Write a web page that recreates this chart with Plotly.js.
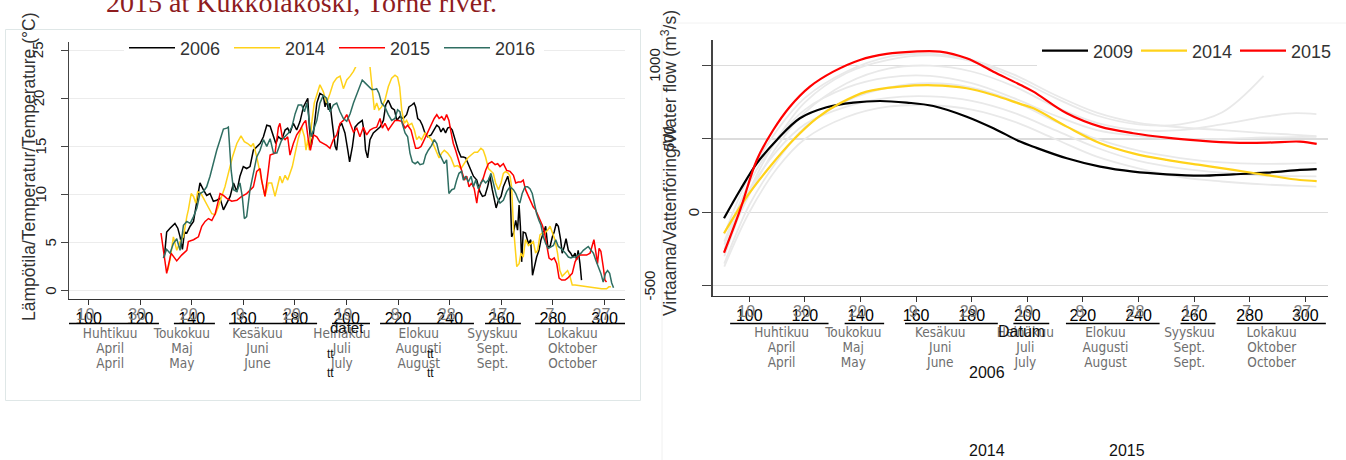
<!DOCTYPE html>
<html><head><meta charset="utf-8">
<script src="https://cdn.plot.ly/plotly-3.0.1.min.js"></script>
<style>html,body{margin:0;padding:0;background:#fff;}#chart{width:1346px;height:460px;}</style>
</head><body><div id="chart"></div>
<script>
// ---------- DATA ----------
const tickDays = [100,120,140,160,180,200,220,240,260,280,300];
const tickLabels = ['100','120','140','160','180','200','220','240','260','280','300'];
const dayOfMonthLabels = ['10','30','20','9','29','19','8','28','17','7','27'];
const monthsFi = ['Huhtikuu','Toukokuu','Kesäkuu','Heinäkuu','Elokuu','Syyskuu','Lokakuu'];
const monthsSv = ['April','Maj','Juni','Juli','Augusti','Sept.','Oktober'];
const monthsEn = ['April','May','June','July','August','Sept.','October'];
const monthCentersTemp = [108.4,136.2,165.5,198.2,228.0,256.6,287.6];
const monthCentersFlow = [111.6,137.4,168.7,199.3,228.1,258.3,287.9];
const monthSpansTemp = [[91.3,127.3],[133.1,149.0],[154.5,188.6],[194.4,209.1],[213.0,249.4],[253.7,267.6],[273.1,308.0]];
const monthSpansFlow = [[93.1,128.5],[134.3,148.5],[156.0,189.4],[195.0,207.9],[213.9,247.6],[255.1,267.7],[275.3,307.4]];
const tempTicks = [0,5,10,15,20,25];
const flowTicks = [-500,0,500,1000];

const tempDays2006 = [129.4,130.3,131.6,133.5,134.6,135.5,136.4,137.2,138.1,139.4,140.7,142.0,143.2,144.5,145.8,147.1,148.4,149.7,151.0,152.3,153.6,154.9,156.2,157.5,158.7,160.0,161.3,162.6,163.9,165.2,166.5,167.8,169.1,170.4,171.7,172.6,173.6,174.9,176.2,177.2,178.1,179.4,180.7,182.0,183.3,184.2,185.0,185.6,186.3,187.2,188.5,189.7,191.0,191.7,192.3,193.0,193.6,194.5,195.6,196.2,197.1,198.1,199.4,200.5,201.2,202.3,203.3,204.6,206.1,206.9,207.4,208.2,209.1,210.4,211.7,213.0,214.3,215.2,216.2,217.5,218.6,219.5,220.7,222.0,223.3,224.2,225.3,226.2,226.8,227.6,228.5,229.4,230.4,231.5,232.8,234.0,235.0,235.9,236.6,237.5,238.4,239.2,240.1,241.0,242.1,243.3,244.4,245.3,246.2,247.2,248.3,249.2,250.5,251.7,252.7,253.7,254.7,255.6,256.5,257.3,258.0,258.9,259.9,260.8,261.7,262.5,263.4,264.0,264.7,265.6,266.3,266.9,267.4,267.9,268.5,269.4,270.5,271.4,272.1,272.8,273.7,274.6,275.4,276.3,277.2,278.0,278.9,279.8,280.5,281.3,282.1,283.0,283.6,284.4,285.1,286.0,286.9,287.7,288.6,289.2,289.8,290.5,291.1];
const temp2006 = [3.5,6.1,6.5,7.0,6.5,5.6,4.3,6.1,6.0,6.7,7.2,9.1,11.2,10.5,9.9,10.1,9.3,9.4,9.6,8.4,9.1,9.8,11.2,10.3,11.9,12.9,12.7,12.9,14.6,15.0,15.3,16.0,17.2,17.1,16.0,15.3,16.0,15.7,16.7,16.9,16.4,17.4,16.7,17.6,19.1,19.5,20.0,17.0,15.0,16.4,19.5,20.5,20.3,19.1,19.8,18.8,19.5,17.4,15.0,14.6,17.0,17.4,16.4,14.6,13.4,15.0,17.0,17.4,17.7,16.4,14.6,13.8,15.7,16.4,16.7,17.0,17.7,19.3,19.8,19.0,18.8,17.7,18.1,17.9,18.3,19.1,19.3,19.5,19.1,17.9,17.7,17.2,16.4,16.0,16.2,16.7,17.2,17.0,16.5,16.9,16.4,16.9,17.0,16.7,15.7,14.6,13.9,13.9,13.8,13.2,12.4,11.9,11.5,10.3,9.8,9.9,10.8,11.9,10.5,9.6,8.6,9.4,9.8,10.8,11.5,11.9,10.8,5.6,6.0,7.3,6.3,8.9,6.7,3.0,6.1,6.0,4.9,5.3,1.6,2.5,3.5,4.2,5.3,6.0,6.7,4.6,4.6,5.6,6.1,7.0,6.7,5.3,3.9,4.6,5.4,4.2,3.9,3.5,3.9,3.2,4.2,2.8,1.1];

const tempDays2014 = [130.7,131.6,132.9,134.2,135.5,136.8,138.1,138.7,139.8,140.7,141.6,142.3,143.6,144.9,146.2,147.8,149.1,150.3,151.6,152.9,154.2,155.8,157.5,159.1,160.4,161.7,163.0,163.9,165.2,166.5,167.4,168.4,169.7,171.0,172.3,173.6,174.2,175.1,176.2,177.2,178.1,179.0,180.1,181.3,182.6,183.7,184.3,185.0,185.6,186.5,187.5,188.5,189.7,191.0,192.3,193.6,194.9,196.2,197.5,198.8,200.1,201.4,202.7,204.0,205.2,206.5,207.8,209.1,210.0,210.8,211.7,212.6,213.6,214.9,216.2,217.5,218.8,219.8,220.6,221.4,222.4,223.3,224.2,225.3,226.3,227.2,228.1,229.1,230.4,231.7,233.0,234.0,235.0,235.9,236.9,237.9,239.2,240.5,241.8,243.1,244.4,245.7,247.0,248.3,249.6,250.8,252.1,253.0,253.9,255.0,256.0,256.9,257.8,258.9,259.9,260.8,261.7,262.7,263.4,264.0,264.7,265.3,266.0,266.9,267.6,268.5,269.4,270.5,271.5,272.4,273.3,274.1,275.0,275.9,276.9,278.0,278.9,279.8,280.8,281.8,282.7,283.6,284.7,285.7,286.6,287.5,288.6,291.1,295.0,298.9,300.8,301.7,302.5];
const temp2014 = [2.1,3.2,5.6,4.2,5.1,5.6,7.7,8.4,10.1,9.8,9.1,10.3,10.1,9.4,8.7,8.0,7.9,8.7,9.8,10.8,12.2,13.9,15.3,16.1,15.5,15.3,15.0,15.3,13.9,12.2,11.2,9.8,11.2,11.2,9.8,11.2,11.9,11.2,12.0,11.5,12.2,12.9,14.3,15.8,17.0,16.0,14.6,15.7,14.6,17.4,19.5,20.5,21.4,20.7,19.5,20.5,21.6,22.1,22.3,21.0,21.9,22.3,22.8,23.5,23.6,23.5,23.6,23.3,20.9,18.8,19.5,18.8,19.1,19.8,21.2,22.1,22.4,22.2,21.2,18.8,17.4,17.7,17.2,17.4,16.7,15.7,16.0,15.7,16.4,16.0,15.7,15.0,14.3,13.8,14.3,14.6,14.3,13.8,12.9,13.0,12.7,13.2,13.8,14.1,14.4,14.4,14.8,14.6,13.9,12.7,12.4,12.2,11.2,10.5,11.2,12.2,12.4,12.2,11.9,10.8,6.7,4.6,2.5,2.8,3.9,3.5,5.3,4.7,4.9,5.1,3.9,4.2,5.8,6.0,6.0,6.3,6.7,6.0,5.3,3.9,2.1,1.5,1.8,2.1,1.5,0.6,0.6,0.5,0.4,0.2,0.2,0.4,0.4];

const tempDays2015 = [128.1,130.3,132.0,134.2,136.1,138.1,138.7,140.7,142.6,143.9,145.2,146.5,147.8,149.1,151.0,152.3,153.6,155.5,157.5,159.4,161.3,162.6,163.9,165.2,166.5,167.1,168.4,169.7,170.4,172.3,173.6,174.2,175.1,176.2,177.2,178.1,179.4,180.7,182.0,183.3,184.2,185.2,186.0,187.2,188.5,189.7,191.0,192.3,193.6,194.9,196.2,197.5,198.8,200.1,201.4,202.7,204.0,205.2,206.5,207.8,209.1,210.4,211.7,213.0,213.9,214.9,216.2,217.5,218.8,220.1,221.4,222.7,223.7,225.0,225.9,226.8,227.8,228.9,229.8,230.7,231.7,233.0,234.0,235.0,235.9,236.9,237.9,238.8,239.7,240.5,241.4,242.3,243.1,244.0,244.9,245.7,246.6,247.5,248.5,249.5,250.5,251.1,252.1,253.0,253.9,255.0,256.3,257.6,258.6,259.5,260.8,262.1,263.4,264.7,265.6,266.6,267.6,268.5,269.4,270.5,271.5,272.4,273.3,274.1,275.0,275.9,276.7,277.6,278.5,279.5,280.5,281.5,282.4,283.4,284.7,285.7,286.6,287.5,288.6,289.6,290.5,291.8,293.1,294.4,295.3,295.9,296.7,297.3,297.9,298.6,299.5,300.2,300.8];
const temp2015 = [6.0,1.8,3.9,3.1,3.7,4.2,5.1,5.3,5.6,6.7,7.2,7.5,7.3,8.0,10.1,9.9,9.6,9.3,9.4,9.8,10.1,10.5,10.8,12.4,12.7,11.5,9.8,12.5,14.1,14.3,17.0,17.4,16.0,15.7,16.0,14.1,15.3,16.2,16.7,17.4,17.7,15.7,14.6,16.2,16.0,15.5,15.3,15.1,14.8,15.7,16.2,17.4,17.7,18.3,17.4,16.5,16.9,16.0,17.0,16.2,16.7,16.9,17.0,17.9,16.9,17.4,16.7,17.2,17.7,17.7,17.6,16.9,17.2,16.7,15.7,14.8,14.8,15.0,15.5,16.0,16.7,17.4,17.9,18.3,17.9,18.1,17.7,18.3,17.7,16.5,15.3,14.6,13.9,12.9,12.2,11.5,11.9,10.8,11.2,10.6,9.1,10.3,11.2,11.7,12.5,13.2,13.4,13.1,13.2,12.9,13.2,12.5,12.4,12.0,11.2,11.3,11.3,11.5,10.5,9.8,9.1,8.7,8.4,7.9,7.3,6.8,6.1,4.6,3.4,3.2,3.4,2.8,1.3,1.1,1.1,1.3,1.5,1.8,3.0,3.5,3.7,3.7,3.7,3.9,4.6,5.3,3.9,2.8,4.4,4.1,2.5,1.1,0.9];

const tempDays2016 = [129.0,130.3,131.6,132.9,134.2,135.5,136.8,138.1,139.4,140.7,142.0,143.2,144.5,145.8,147.1,148.4,149.7,151.0,152.3,153.6,154.2,155.3,156.2,157.5,158.7,159.6,160.4,161.3,162.6,163.9,165.2,166.5,167.8,169.1,170.4,171.7,173.0,174.9,176.2,177.5,178.8,180.1,181.3,182.6,183.7,184.6,185.2,186.3,187.2,188.5,189.7,191.0,192.3,193.6,194.9,196.2,197.5,198.8,200.1,201.4,202.7,204.0,205.2,206.1,207.2,208.5,209.8,210.8,211.7,212.6,213.6,214.9,216.2,217.5,218.8,219.8,220.7,221.6,222.7,223.7,224.6,225.5,226.6,227.6,228.5,229.8,230.7,231.7,233.0,234.0,235.0,235.9,236.9,237.9,238.8,239.7,240.8,241.8,242.7,243.6,244.6,245.3,246.2,247.2,248.3,249.2,250.1,251.1,252.1,253.0,253.9,255.0,256.0,257.3,258.2,259.5,260.8,262.1,263.4,264.7,265.6,266.6,267.2,268.1,269.2,270.2,271.1,272.0,272.8,273.7,274.6,275.4,276.3,277.2,278.2,279.3,280.2,281.1,282.1,283.1,284.0,284.9,286.0,287.0,287.9,288.8,289.8,290.9,291.8,292.7,293.7,294.8,295.7,296.6,297.6,298.6,299.5,300.4,301.2,302.0,302.8,303.5];
const temp2016 = [3.4,4.3,3.9,4.9,5.4,4.2,6.8,7.2,7.0,7.7,8.6,10.1,10.3,10.8,11.9,13.4,14.6,15.7,16.8,16.9,17.0,12.5,10.5,10.3,11.2,9.8,7.5,7.7,10.5,12.2,13.9,14.6,15.7,15.0,15.8,14.3,14.3,15.7,16.0,16.4,17.0,18.4,19.3,19.3,18.6,19.5,18.4,16.0,16.7,17.7,19.5,20.3,20.0,18.6,19.3,19.5,18.6,17.9,17.6,18.4,19.5,20.5,21.4,21.9,21.6,21.2,20.9,20.9,21.0,20.5,19.5,19.1,18.3,17.7,17.9,18.8,18.6,17.4,16.4,16.0,14.3,13.4,13.2,13.4,13.1,13.2,14.1,14.6,15.1,15.7,15.3,14.3,13.8,13.2,13.6,10.1,10.5,10.6,11.5,12.2,12.4,11.5,11.9,11.3,11.9,10.8,11.5,10.6,11.2,11.5,11.2,11.5,12.2,10.8,9.8,9.1,9.4,10.3,10.8,10.5,10.1,9.4,9.1,10.1,10.8,10.8,10.6,10.1,9.1,8.0,7.3,6.8,5.6,4.9,4.4,4.6,4.7,5.3,4.6,4.4,4.2,3.9,3.5,3.4,3.5,3.5,3.7,3.9,4.2,4.4,4.6,4.2,3.9,3.2,2.5,1.8,0.9,1.8,2.1,1.8,0.8,0.3];

const flowDays2009 = [90.9,96.7,102.7,109.9,118.2,127.8,137.4,147.0,156.6,166.2,178.2,187.8,197.4,202.2,214.2,226.2,238.1,250.1,262.1,274.1,286.1,298.1,304.1];
const flow2009 = [-41,152,334,493,641,716,748,759,748,725,652,573,482,447,368,311,277,259,250,259,270,289,295];
const flowDays2014 = [90.9,99.1,107.4,115.8,124.2,132.6,142.2,154.2,166.2,178.2,187.8,197.4,202.2,214.2,226.2,238.1,250.1,262.1,274.1,286.1,298.1,304.1];
const flow2014 = [-143,106,311,493,641,743,823,857,866,846,800,739,709,584,471,402,357,323,289,254,220,213];
const flowDays2015 = [90.9,96.7,102.7,108.6,114.6,121.8,130.2,139.8,149.4,159.0,168.6,178.2,187.8,197.4,202.2,214.2,226.2,238.1,250.1,262.1,274.1,286.1,298.1,304.1];
const flow2015 = [-276,16,357,561,720,857,959,1039,1080,1096,1096,1050,959,870,823,675,584,539,509,489,475,475,482,466];
const flowGrayDays = [91,100,110,120,135,150,165,180,195,210,225,240,255,270,285,295,304];
const flowGrayA = [-300,150,500,750,950,1040,1070,1030,920,780,660,600,600,680,930,null,null];
const flowGrayB = [-250,120,450,680,880,980,1000,960,860,720,610,560,560,600,650,675,670];
const flowGrayC = [-200,200,500,700,850,920,930,880,780,660,560,520,500,500,510,512,515];
const flowGrayD = [-350,50,350,580,760,850,880,850,760,620,500,420,370,340,330,332,335];
const flowGrayE = [-220,150,420,600,720,780,790,760,680,560,440,350,300,270,250,247,245];
const flowGrayF = [-370,0,300,500,650,720,730,700,620,500,380,300,240,210,190,182,175];
const flowGrayG = [-150,250,560,780,960,1060,1080,1040,940,800,680,610,580,560,540,530,520];

// ---------- LAYOUT HELPERS ----------
const W = 1346, H = 460;
const px = v => v / W;
const py = v => 1 - v / H;
const SANS = 'Liberation Sans, Arial, sans-serif';
const COND = 'DejaVu Sans Condensed, Liberation Sans Narrow, Arial, sans-serif';

const traces = [];
function tline(x, y, name, color){
  traces.push({x, y, name, type:'scatter', mode:'lines', xaxis:'x', yaxis:'y', legend:'legend',
    line:{color, width:1.5}, hoverinfo:'skip'});
}
tline(tempDays2006, temp2006, '2006', '#000000');
tline(tempDays2014, temp2014, '2014', '#FFD21A');
tline(tempDays2015, temp2015, '2015', '#FF0000');
tline(tempDays2016, temp2016, '2016', '#2F6E62');

[flowGrayA, flowGrayB, flowGrayC, flowGrayD, flowGrayE, flowGrayF, flowGrayG].forEach(g => {
  traces.push({x: flowGrayDays, y: g, type:'scatter', mode:'lines', xaxis:'x2', yaxis:'y2',
    showlegend:false, line:{color:'#e9e9e9', width:1.8, shape:'spline'}, hoverinfo:'skip'});
});
function fline(x, y, name, color){
  traces.push({x, y, name, type:'scatter', mode:'lines', xaxis:'x2', yaxis:'y2', legend:'legend2',
    line:{color, width:2.2, shape:'spline'}, hoverinfo:'skip'});
}
fline(flowDays2009, flow2009, '2009', '#000000');
fline(flowDays2014, flow2014, '2014', '#FFD21A');
fline(flowDays2015, flow2015, '2015', '#FF0000');

// empty carrier traces so that the label-only overlay axes get drawn
['x3','x5','x7','x9'].forEach(a => traces.push({x:[], y:[], type:'scatter', mode:'lines', xaxis:a, yaxis:'y', showlegend:false, hoverinfo:'skip'}));
['x4','x6','x8','x10'].forEach(a => traces.push({x:[], y:[], type:'scatter', mode:'lines', xaxis:a, yaxis:'y2', showlegend:false, hoverinfo:'skip'}));

const tempRange = [92.44, 307.95];
const flowRange = [86.83, 308.17];

function labelAxis(over, range, vals, text, font, standoff, shift){
  return {overlaying: over, anchor: over === 'x' ? 'y' : 'y2', side:'bottom', range, autorange:false, tickmode:'array', tickvals: vals, ticktext: text,
    showline:false, showgrid:false, zeroline:false, ticks:'', tickfont: font,
    ticklabelstandoff: standoff, ticklabelshift: shift || 0, fixedrange:true};
}
const grayDayFont = {family:SANS, size:16, color:'#7d7d7d'};
const blackFont = {family:SANS, size:16, color:'#000'};
const monthFont = {family:COND, size:13.5, color:'#6e6e6e'};

const layout = {
  width: W, height: H, margin:{l:0,r:0,t:0,b:0, autoexpand:false},
  paper_bgcolor:'#fff', plot_bgcolor:'rgba(0,0,0,0)',
  showlegend:true,
  xaxis: {domain:[px(69), px(625)], range: tempRange, anchor:'y', tickmode:'array', tickvals: tickDays, ticktext: tickLabels,
    showline:true, linecolor:'#333', linewidth:1.3, ticks:'outside', ticklen:5, tickcolor:'#333',
    showgrid:false, zeroline:false, tickfont: blackFont, fixedrange:true},
  yaxis: {domain:[py(298.5), py(42)], range:[-0.81, 25.85], anchor:'x', tickmode:'array', tickvals: tempTicks,
    showticklabels:false, showline:true, linecolor:'#444', linewidth:1.3, ticks:'outside', ticklen:7, tickcolor:'#444',
    showgrid:true, gridcolor:'#ececec', gridwidth:1, zeroline:false, fixedrange:true},
  xaxis2: {domain:[px(712.7), px(1328)], range: flowRange, anchor:'y2', tickmode:'array', tickvals: tickDays, ticktext: tickLabels,
    showline:true, linecolor:'#333', linewidth:1.3, ticks:'outside', ticklen:5, tickcolor:'#333',
    showgrid:false, zeroline:false, tickfont: blackFont, fixedrange:true},
  yaxis2: {domain:[py(295.7), py(40)], range:[-568.7, 1174.8], anchor:'x2', tickmode:'array', tickvals: flowTicks,
    showticklabels:false, showline:true, linecolor:'#444', linewidth:1.3, ticks:'outside', ticklen:9, tickcolor:'#444',
    showgrid:true, gridcolor:'#dcdcdc', gridwidth:1.5, zeroline:false, fixedrange:true},
  xaxis3: labelAxis('x', tempRange, tickDays, dayOfMonthLabels, grayDayFont, 4, -3),
  xaxis4: labelAxis('x2', flowRange, tickDays, dayOfMonthLabels, grayDayFont, 4, -3),
  xaxis5: labelAxis('x', tempRange, monthCentersTemp, monthsFi, monthFont, 25),
  xaxis6: labelAxis('x2', flowRange, monthCentersFlow, monthsFi, monthFont, 27),
  xaxis7: labelAxis('x', tempRange, monthCentersTemp, monthsSv, monthFont, 40),
  xaxis8: labelAxis('x2', flowRange, monthCentersFlow, monthsSv, monthFont, 42),
  xaxis9: labelAxis('x', tempRange, monthCentersTemp, monthsEn, monthFont, 55),
  xaxis10: labelAxis('x2', flowRange, monthCentersFlow, monthsEn, monthFont, 57),
  legend: {orientation:'h', x: px(124), xanchor:'left', y: py(48), yanchor:'middle', bgcolor:'#fff', borderwidth:0,
    font:{family:SANS, size:18, color:'#333'}, itemwidth:46, entrywidth:44, entrywidthmode:'pixels', tracegroupgap:0,
    itemclick:false, itemdoubleclick:false},
  legend2: {orientation:'h', x: px(1037), xanchor:'left', y: py(51), yanchor:'middle', bgcolor:'#fff', borderwidth:0,
    font:{family:SANS, size:18, color:'#333'}, itemwidth:46, entrywidth:38, entrywidthmode:'pixels', tracegroupgap:0,
    itemclick:false, itemdoubleclick:false},
  shapes: [],
  annotations: []
};

// panel frames
layout.shapes.push({type:'rect', xref:'paper', yref:'paper', x0:px(5.5), x1:px(640.5), y0:py(400.5), y1:py(29.5),
  line:{color:'#dfe7e7', width:1}, fillcolor:'rgba(0,0,0,0)', layer:'below'});
layout.shapes.push({type:'line', xref:'paper', yref:'paper', x0:px(662), x1:px(662), y0:py(23), y1:py(460),
  line:{color:'#f0f0f0', width:1}});
layout.shapes.push({type:'line', xref:'paper', yref:'paper', x0:px(662), x1:px(1346), y0:py(23), y1:py(23),
  line:{color:'#f2f2f2', width:1}});
// month span underlines
monthSpansTemp.forEach(s => layout.shapes.push({type:'line', xref:'x', yref:'paper', x0:s[0], x1:s[1], y0:py(323.5), y1:py(323.5),
  line:{color:'#000', width:1.4}}));
monthSpansFlow.forEach(s => layout.shapes.push({type:'line', xref:'x2', yref:'paper', x0:s[0], x1:s[1], y0:py(323.5), y1:py(323.5),
  line:{color:'#000', width:1.4}}));

const A = layout.annotations;
function note(text, x, y, size, color, extra){
  A.push(Object.assign({text, xref:'paper', yref:'paper', x:px(x), y:py(y), xanchor:'center', yanchor:'middle',
    showarrow:false, font:{family:SANS, size, color}}, extra || {}));
}
// caption fragment
A.push({text:'2015 at Kukkolakoski, Torne river.', xref:'paper', yref:'paper', x:px(301), y:py(3), xanchor:'center', yanchor:'middle',
  showarrow:false, font:{family:'Liberation Serif, DejaVu Serif, serif', size:28, color:'#8e1c1f'}});
// y tick labels (rotated)
const tempTickX = [51,51,40,40,38,37];
tempTicks.forEach((t,i) => A.push({text:String(t), xref:'paper', yref:'y', x:px(tempTickX[i]), y:t, xanchor:'center', yanchor:'middle',
  textangle:-90, showarrow:false, font:{family:SANS, size:15, color:'#222'}}));
const flowTickX = [650,693,669,655];
flowTicks.forEach((t,i) => A.push({text:String(t), xref:'paper', yref:'y2', x:px(flowTickX[i]), y:t, xanchor:'center', yanchor:'middle',
  textangle:-90, showarrow:false, font:{family:SANS, size:15, color:'#222'}}));
// axis titles
note('Lämpötila/Temperatur/Temperature (°C)', 29, 167, 17.5, '#333', {textangle:-90});
note('Virtaama/Vattenföring/Water flow (m<sup>3</sup>/s)', 669, 163, 17.5, '#333', {textangle:-90});
note('datet', 347, 327, 15, '#111');
note('Datum', 1021, 331, 16, '#111');
note('tt', 330, 354, 12, '#111');
note('tt', 330, 373, 12, '#111');
note('tt', 431, 354, 12, '#111');
note('tt', 431, 373, 12, '#111');
note('2006', 987, 372, 16, '#111');
note('2014', 987, 450, 16, '#111');
note('2015', 1127, 450, 16, '#111');

Plotly.newPlot('chart', traces, layout, {displayModeBar:false, staticPlot:true});
</script></body></html>
